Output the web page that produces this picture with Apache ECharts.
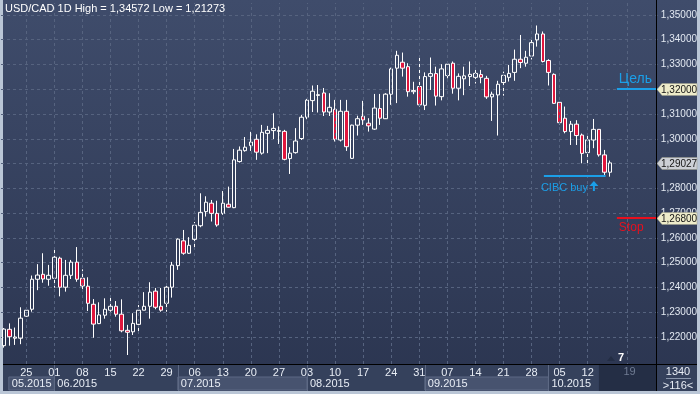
<!DOCTYPE html>
<html><head><meta charset="utf-8">
<script src="https://cdn.jsdelivr.net/npm/echarts@6/dist/echarts.min.js"></script>
<style>html,body{margin:0;padding:0;background:#bac6d6;}#c{width:700px;height:394px;}</style>
</head><body><div id="c"></div>
<script>
// ---- data ----
const startDate = '2015-05-19';
const futureDays = 8;
const open  = [1.2165,1.2231,1.2195,1.2195,1.2284,1.2312,1.2433,1.2453,1.2433,1.2437,1.2518,1.2401,1.2449,1.2502,1.2437,1.2405,1.2332,1.2254,1.2288,1.2308,1.2324,1.2292,1.2227,1.2221,1.2251,1.2308,1.2324,1.2385,1.2324,1.2336,1.2401,1.2488,1.2588,1.2538,1.2594,1.2649,1.2706,1.2740,1.2699,1.2699,1.2736,1.2722,1.2908,1.2952,1.2972,1.2998,1.2942,1.3022,1.3033,1.3030,1.3030,1.2920,1.2944,1.3001,1.3087,1.3154,1.3175,1.3185,1.3108,1.3119,1.2995,1.3111,1.2921,1.3055,1.3091,1.3063,1.3039,1.3122,1.3081,1.3180,1.3285,1.3309,1.3291,1.3190,1.3211,1.3135,1.3252,1.3263,1.3170,1.3255,1.3305,1.3204,1.3242,1.3251,1.3248,1.3259,1.3244,1.3169,1.3177,1.3227,1.3248,1.3268,1.3321,1.3305,1.3334,1.3399,1.3423,1.3316,1.3260,1.3147,1.3083,1.3029,1.3059,1.3015,1.2944,1.2995,1.3038,1.2935,1.2865];
const close = [1.2232,1.2201,1.2200,1.2276,1.2308,1.2433,1.2450,1.2434,1.2449,1.2522,1.2401,1.2449,1.2502,1.2433,1.2406,1.2336,1.2252,1.2289,1.2312,1.2324,1.2292,1.2225,1.2219,1.2255,1.2308,1.2324,1.2381,1.2320,1.2308,1.2401,1.2490,1.2595,1.2538,1.2570,1.2651,1.2703,1.2744,1.2699,1.2652,1.2740,1.2724,1.2915,1.2954,1.2966,1.2987,1.2946,1.3026,1.3034,1.3042,1.3033,1.2917,1.2942,1.2991,1.3087,1.3156,1.3192,1.3178,1.3108,1.3127,1.2998,1.3111,1.2968,1.3055,1.3081,1.3076,1.3052,1.3124,1.3083,1.3180,1.3282,1.3337,1.3285,1.3190,1.3195,1.3137,1.3251,1.3263,1.3172,1.3282,1.3301,1.3204,1.3252,1.3254,1.3260,1.3264,1.3248,1.3169,1.3180,1.3220,1.3256,1.3264,1.3321,1.3308,1.3329,1.3388,1.3423,1.3312,1.3268,1.3143,1.3065,1.3029,1.3059,1.3013,1.2941,1.2995,1.3038,1.2935,1.2865,1.29027];
const low   = [1.2157,1.2165,1.2168,1.2171,1.2281,1.2302,1.2389,1.2419,1.2407,1.2399,1.2364,1.2383,1.2434,1.2423,1.2383,1.2305,1.2197,1.2252,1.2274,1.2302,1.2282,1.2219,1.21273,1.2208,1.2216,1.2308,1.2274,1.2312,1.2302,1.2302,1.2359,1.2471,1.2532,1.2535,1.2561,1.2643,1.2686,1.2666,1.2645,1.2693,1.2722,1.2720,1.2904,1.2948,1.2951,1.2915,1.2936,1.2942,1.2999,1.2979,1.2913,1.2858,1.2940,1.2995,1.3079,1.3108,1.3106,1.3092,1.3092,1.2989,1.2989,1.2951,1.2919,1.3013,1.3056,1.3029,1.3036,1.3056,1.3080,1.3137,1.3144,1.3251,1.3170,1.3180,1.3130,1.3116,1.3197,1.3134,1.3155,1.3244,1.3182,1.3155,1.3176,1.3213,1.3223,1.3224,1.3161,1.3072,1.3013,1.3174,1.3231,1.3234,1.3285,1.3291,1.3320,1.3372,1.3308,1.3215,1.3141,1.3058,1.3022,1.2975,1.2975,1.2901,1.2901,1.2962,1.2928,1.2854,1.2847];
const high  = [1.2236,1.2255,1.2238,1.2320,1.2321,1.2448,1.2494,1.2538,1.2491,1.2562,1.2524,1.2511,1.2511,1.2563,1.2473,1.2441,1.2353,1.2340,1.2356,1.2362,1.2345,1.2352,1.2249,1.2296,1.2329,1.2381,1.2421,1.2398,1.2398,1.2414,1.2503,1.2598,1.2632,1.2603,1.2664,1.2780,1.2768,1.2753,1.2750,1.2789,1.2807,1.2959,1.2969,1.3007,1.3028,1.3018,1.3056,1.3052,1.3103,1.3050,1.3036,1.2966,1.3043,1.3096,1.3161,1.3215,1.3217,1.3205,1.3184,1.3157,1.3157,1.3157,1.3057,1.3093,1.3153,1.3083,1.3181,1.3181,1.3184,1.3287,1.3355,1.3348,1.3305,1.3230,1.3332,1.3268,1.3328,1.3291,1.3301,1.3312,1.3312,1.3264,1.3291,1.3312,1.3282,1.3278,1.3254,1.3190,1.3234,1.3271,1.3298,1.3360,1.3419,1.3355,1.3400,1.34572,1.3433,1.3321,1.3264,1.3147,1.3130,1.3072,1.3075,1.3021,1.3015,1.3080,1.3038,1.2955,1.2912];
const yTicks = [1.22,1.23,1.24,1.25,1.26,1.27,1.28,1.29,1.30,1.31,1.32,1.33,1.34,1.35];
const titleText = 'USD/CAD 1D High = 1,34572 Low = 1,21273';
// level annotations: [from category, to category, price, text]
const levelFrom  = [109.2, 109.2, 96.2];
const levelTo    = [116.5, 116.5, 107.2];
const levelPrice = [1.32, 1.268, 1.2850];
const levelText  = ['Цель', 'Stop', 'CIBC buy'];
const lastPrice = 1.29027;
const barsInfo = '1340', scaleInfo = '>116<', alertCount = '7';

// ---- build ----
const n = open.length;
const dates = [];
(function () {
  let d = new Date(startDate + 'T00:00:00Z');
  while (dates.length < n + futureDays) {
    const wd = d.getUTCDay();
    if (wd !== 0 && wd !== 6) dates.push(d.toISOString().slice(0, 10));
    d = new Date(d.getTime() + 86400000);
  }
})();
const isMonday = s => new Date(s + 'T00:00:00Z').getUTCDay() === 1;
const candles = open.map((o, i) => [o, close[i], low[i], high[i]]);
const fmt = v => v.toFixed(5).replace('.', ',');
const F = "'Liberation Sans',Arial,sans-serif";

const mondays = [];
for (let i = 0; i < n; i++) if (isMonday(dates[i])) mondays.push(i);
const monthStarts = [];
for (let i = 0; i < n; i++) if (i === 0 || dates[i].slice(5, 7) !== dates[i - 1].slice(5, 7)) monthStarts.push(i);
const futureStart = n - 3;
const monthItems = monthStarts.map((s, k) => [s, k + 1 < monthStarts.length ? monthStarts[k + 1] : futureStart, k]);
let nextMon = n; while (!isMonday(dates[nextMon])) nextMon++;
const futureLabel = dates[nextMon].slice(8);
const levelItems = levelPrice.map((p, k) => [levelFrom[k], p, levelTo[k], k]);

const gridStyle = { color: '#56637f', width: 1, type: [3, 3] };
const cyan = '#1b9fe8', red = '#e8101e';
const levelColor = [cyan, red, cyan];

const chart = echarts.init(document.getElementById('c'), null, { renderer: 'canvas' });
chart.setOption({
  animation: false,
  backgroundColor: '#bac6d6',
  title: { text: titleText, left: 5, top: 3, padding: 0,
    textStyle: { color: '#ffffff', fontSize: 11, fontWeight: 'normal', fontFamily: F } },
  graphic: [
    { type: 'rect', z: -10, shape: { x: 3, y: 0, width: 694, height: 391 },
      style: { fill: new echarts.graphic.LinearGradient(0, 0, 0, 1, [
        { offset: 0, color: '#3f4c6b' }, { offset: 1, color: '#2b3550' }]) } },
    { type: 'rect', z: -9, shape: { x: 3, y: 365, width: 694, height: 26 }, style: { fill: '#35415c' } },
    { type: 'line', z: 20, shape: { x1: 3, y1: 364.5, x2: 697, y2: 364.5 }, style: { stroke: '#000', lineWidth: 1 } },
    { type: 'line', z: 20, shape: { x1: 656.5, y1: 0, x2: 656.5, y2: 391 }, style: { stroke: '#000', lineWidth: 1 } },
    { type: 'text', z: 20, style: { text: barsInfo, x: 678, y: 372, align: 'center', verticalAlign: 'middle', fill: '#e8edf5', font: '11px ' + F } },
    { type: 'line', z: 20, shape: { x1: 666, y1: 378.5, x2: 691, y2: 378.5 }, style: { stroke: '#8a96ac', lineWidth: 1 } },
    { type: 'text', z: 20, style: { text: scaleInfo, x: 678, y: 386, align: 'center', verticalAlign: 'middle', fill: '#e8edf5', font: '11px ' + F } },
    { type: 'polygon', z: 20, shape: { points: [[607, 361], [611, 356], [615, 361]] }, style: { fill: '#232d44' } },
    { type: 'text', z: 20, style: { text: alertCount, x: 618, y: 358, verticalAlign: 'middle', fill: '#ffffff', font: 'bold 11px ' + F } }
  ],
  grid: { left: 1, right: 42, top: 3, bottom: 30, containLabel: false },
  xAxis: {
    type: 'category', data: dates, boundaryGap: true,
    axisLine: { show: false }, axisTick: { show: false }, splitLine: { show: false },
    axisLabel: { interval: 0, margin: 3, color: '#e8edf5', fontSize: 11, fontFamily: F,
      formatter: (v, i) => (i < n && isMonday(v)) ? v.slice(8) : '' }
  },
  yAxis: {
    type: 'value', position: 'right', min: 1.2091, max: 1.3548, scale: true,
    axisLine: { show: false },
    axisTick: { show: false, customValues: yTicks },
    axisLabel: { customValues: yTicks, formatter: fmt, color: '#e3e9f2', fontSize: 10, margin: 3, fontFamily: F },
    splitLine: { show: true, lineStyle: gridStyle }
  },
  series: [
    { type: 'line', data: [], z: 1, silent: true,
      markLine: { symbol: 'none', silent: true, label: { show: false }, lineStyle: gridStyle,
        data: mondays.map(i => ({ xAxis: i })) } },
    { type: 'candlestick', data: candles, barWidth: 4, z: 3,
      itemStyle: { color: 'transparent', color0: '#e0163d', borderColor: '#ffffff', borderColor0: '#ffffff', borderWidth: 1 } },
    // level lines with their captions
    { type: 'custom', coordinateSystem: 'cartesian2d', clip: false, silent: true, z: 5,
      data: levelItems,
      renderItem: (params, api) => {
        const bw = api.size([1, 0])[0];
        const base = api.coord([0, api.value(1)]);
        const x0 = base[0] + api.value(0) * bw;
        const x1 = base[0] + api.value(2) * bw;
        const y = Math.round(base[1]);
        const k = api.value(3);
        const col = levelColor[k];
        const children = [{ type: 'line', shape: { x1: x0, y1: y, x2: x1, y2: y }, style: { stroke: col, lineWidth: 2 } }];
        if (k === 0) children.push({ type: 'text', style: { text: levelText[k], x: x0 + 2, y: y - 3, verticalAlign: 'bottom', fill: col, font: '14px ' + F } });
        else if (k === 1) children.push({ type: 'text', style: { text: levelText[k], x: x0 + 2, y: y + 4, verticalAlign: 'top', fill: col, font: '12px ' + F } });
        else {
          children.push({ type: 'text', style: { text: levelText[k], x: x0 - 3, y: y + 6, verticalAlign: 'top', fill: col, font: '11px ' + F } });
          const ax = x0 + 50, ay = y + 5;
          children.push({ type: 'polygon', shape: { points: [[ax, ay], [ax + 4.5, ay + 5], [ax - 4.5, ay + 5]] }, style: { fill: col } });
          children.push({ type: 'rect', shape: { x: ax - 1, y: ay + 4, width: 2, height: 6 }, style: { fill: col } });
        }
        return { type: 'group', children };
      } },
    { type: 'custom', coordinateSystem: 'cartesian2d', clip: false, silent: true, z: 4,
      data: monthItems,
      renderItem: (params, api) => {
        const cs = params.coordSys;
        const s = api.value(0), e = api.value(1), k = api.value(2);
        let x0 = api.coord([s, 1.3])[0];
        if (k === 0) x0 += 5;
        const x1 = api.coord([e, 1.3])[0];
        const yb = cs.y + cs.height;
        const children = [];
        if (k % 2 === 0) children.push({ type: 'rect', shape: { x: x0, y: yb + 13, width: x1 - x0, height: 13 },
          style: { fill: '#47536f', stroke: '#5d6984', lineWidth: 1 } });
        if (k > 0) children.push({ type: 'line', shape: { x1: Math.round(x0) + 0.5, y1: yb + 1, x2: Math.round(x0) + 0.5, y2: yb + 27 },
          style: { stroke: '#5d6984', lineWidth: 1 } });
        const d = dates[s];
        children.push({ type: 'text', style: { text: d.slice(5, 7) + '.' + d.slice(0, 4), x: x0 + 3, y: yb + 20, verticalAlign: 'middle',
          fill: '#e8edf5', font: '11px ' + F } });
        return { type: 'group', children };
      } },
    { type: 'custom', coordinateSystem: 'cartesian2d', clip: false, silent: true, z: 4,
      data: [[futureStart, 1.3]],
      renderItem: (params, api) => {
        const cs = params.coordSys;
        const x0 = api.coord([api.value(0), 1.3])[0];
        const x1 = 656;
        const yb = cs.y + cs.height;
        const xc = Math.round((x0 + x1) / 2) + 0.5;
        return { type: 'group', children: [
          { type: 'line', shape: { x1: xc, y1: cs.y, x2: xc, y2: yb }, style: { stroke: gridStyle.color, lineWidth: 1, lineDash: [3, 3] } },
          { type: 'rect', shape: { x: x0, y: yb + 1, width: x1 - x0, height: 26 }, style: { fill: '#242e45' } },
          { type: 'text', style: { text: futureLabel, x: xc + 2, y: yb + 8, align: 'center', verticalAlign: 'middle', fill: '#6f7b92', font: '11px ' + F } }
        ] };
      } },
    { type: 'custom', coordinateSystem: 'cartesian2d', clip: false, silent: true, z: 10,
      data: [[n - 1, levelPrice[0], 0], [n - 1, levelPrice[1], 0], [n - 1, lastPrice, 1]],
      renderItem: (params, api) => {
        const v = api.value(1);
        const y = Math.round(api.coord([0, v])[1]) + 0.5;
        const x = 657;
        const fill = api.value(2) === 1 ? '#cdd0d6' : '#eeecca';
        return { type: 'group', children: [
          { type: 'polygon', shape: { points: [[x, y], [x + 5, y - 6], [x + 40, y - 6], [x + 40, y + 6], [x + 5, y + 6]] },
            style: { fill, stroke: '#9a9a88', lineWidth: 0.5 } },
          { type: 'text', style: { text: fmt(v), x: x + 4, y: y + 0.5, verticalAlign: 'middle', fill: '#151515', font: '10px ' + F } }
        ] };
      } }
  ]
});
</script></body></html>
